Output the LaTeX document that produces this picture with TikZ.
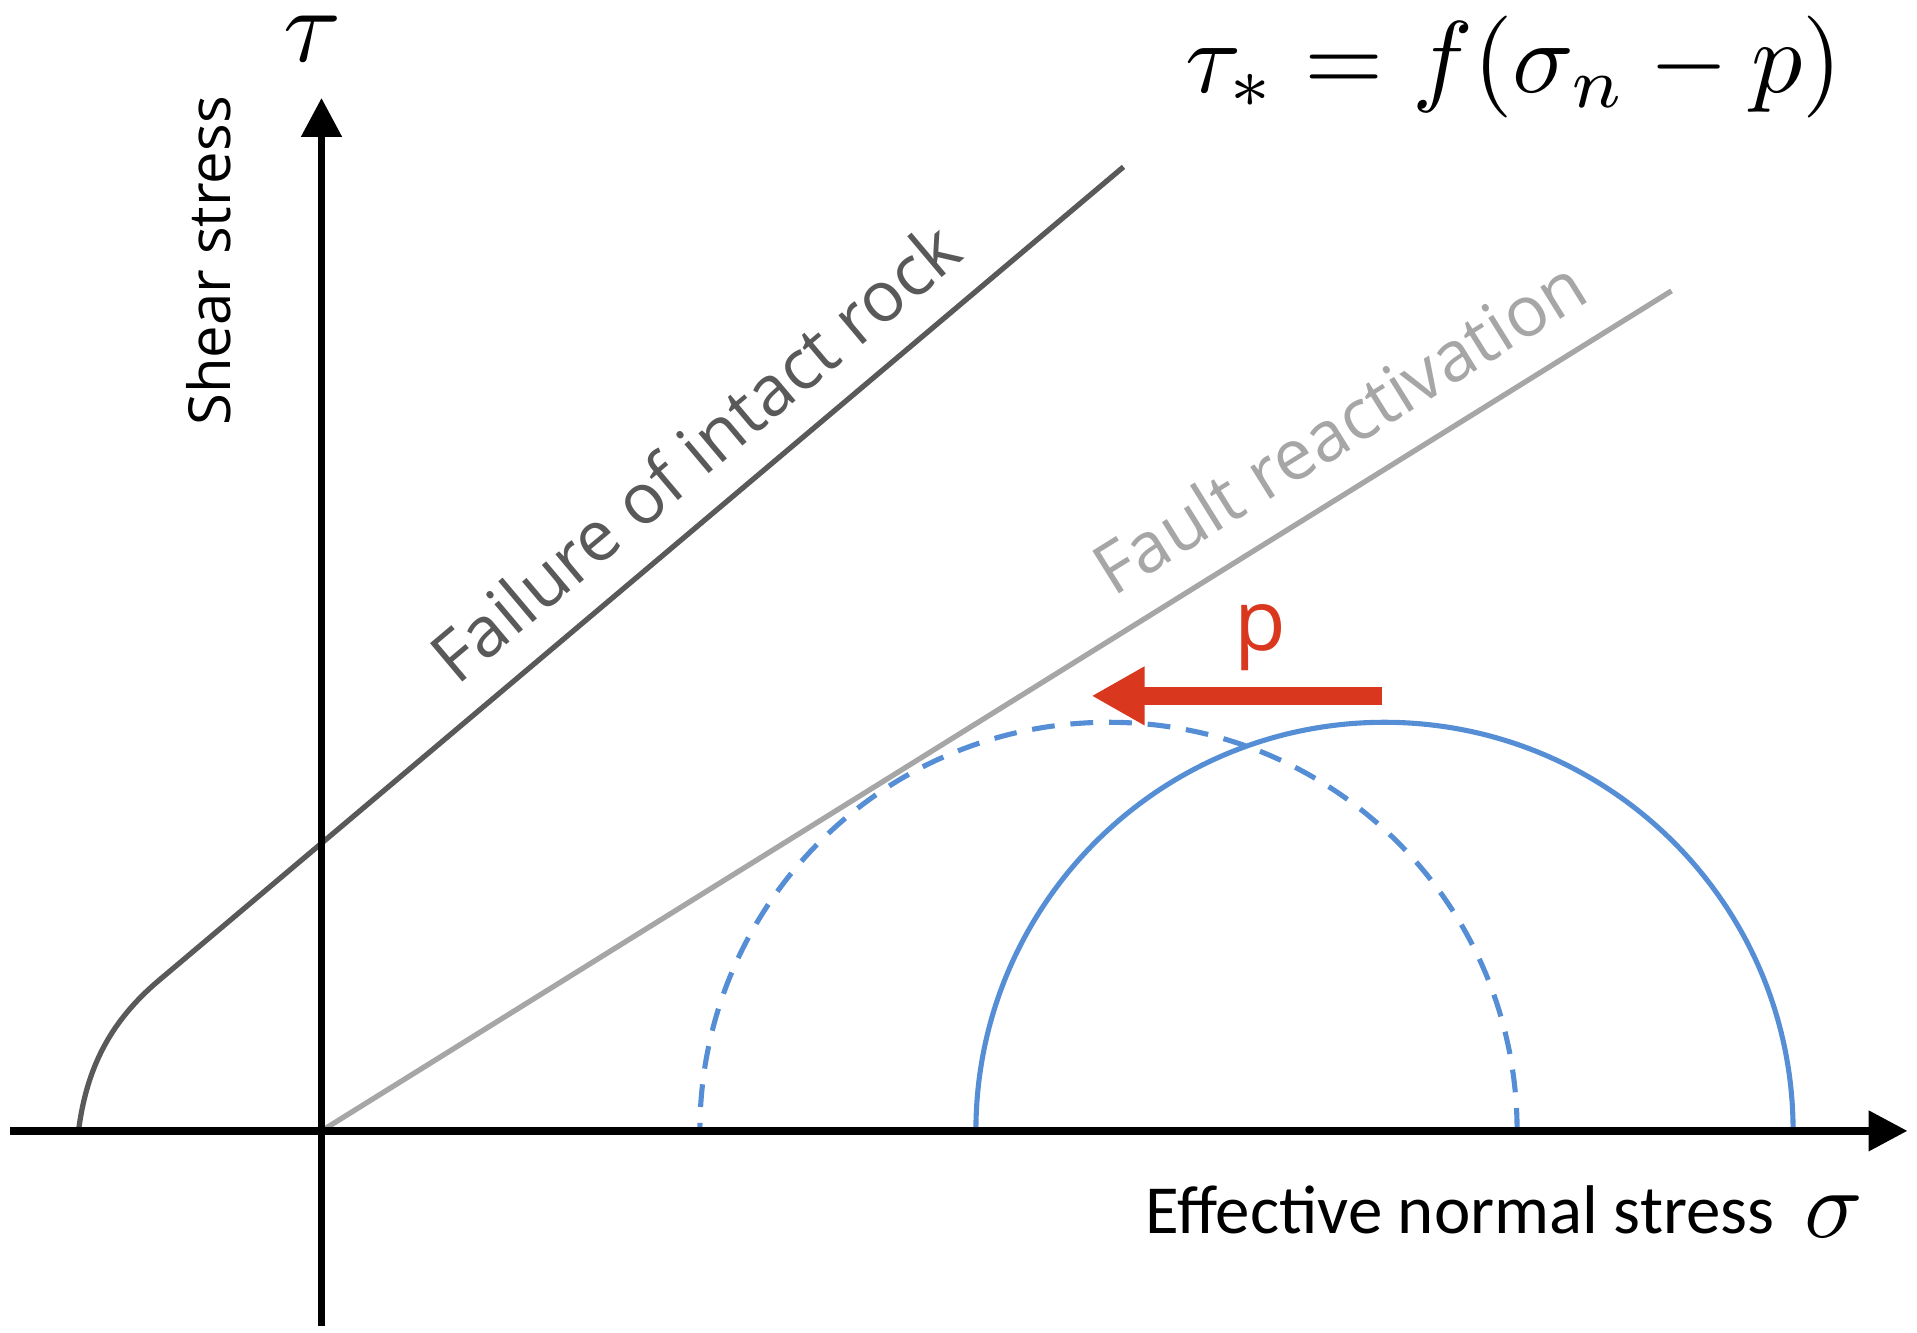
\documentclass[tikz,border=0pt]{standalone}
\usepackage{fontspec}
\usetikzlibrary{arrows.meta}
\newfontfamily\labelfont{Open Sans}
\newfontfamily\axisfont{Carlito}
\definecolor{intactgray}{HTML}{595959}
\definecolor{faultgray}{HTML}{A6A6A6}
\definecolor{mohrblue}{HTML}{558ED5}
\definecolor{porered}{HTML}{D9381E}

\begin{document}
\begin{tikzpicture}[
    axis/.style={line width=2.2pt, -{Triangle[length=0.39cm,width=0.39cm]}},
    envelope/.style={line width=1.5pt},
    mohr/.style={mohrblue, line width=1.45pt},
    slopelabel/.style={font=\labelfont\fontsize{20}{24}\selectfont}
  ]
  \useasboundingbox (-3.215,-2.017) rectangle (15.955,11.309);
  % Mohr circles
  \coordinate (c0) at (10.63,0);
  \coordinate (c1) at (7.87,0);
  \draw[mohr] (c0) ++(4.086,0) arc[start angle=0, end angle=180, radius=4.086];
  \draw[mohr, dash pattern=on 6.5pt off 4.5pt] (c1) ++(4.086,0) arc[start angle=0, end angle=180, radius=4.086];
  % Failure envelopes
  \coordinate (fa) at (-2.43,0);
  \coordinate (fb) at (-1.62,1.51);
  \coordinate (fc) at (8.02,9.64);
  \draw[envelope, intactgray] (fa) .. controls (-2.35,0.62) and (-2.12,1.09) .. (fb) -- (fc);
  \node[slopelabel, intactgray, rotate=40.1] (intact) at (3.73,6.79) {Failure of intact rock};
  \coordinate (o) at (0,0);
  \coordinate (rb) at (13.50,8.40);
  \draw[envelope, faultgray] (o) -- (rb);
  \node[slopelabel, faultgray, rotate=31.9] (fault) at (10.17,7.05) {Fault reactivation};
  % Axes
  \coordinate (xl) at (-3.11,0);
  \coordinate (xr) at (15.86,0);
  \coordinate (yb) at (0,-1.95);
  \coordinate (yt) at (0,10.33);
  \draw[axis] (xl) -- (xr);
  \draw[axis] (yb) -- (yt);
  \node[scale=3, inner sep=0pt] (tau) at (-0.09,10.92) {$\tau$};
  \node[font=\labelfont\fontsize{16.5}{20}\selectfont, rotate=90] (shear) at (-1.13,8.70) {Shear stress};
  \node[font=\axisfont\fontsize{19.6}{22}\selectfont, anchor=base west] (normal) at (8.12,-1.03) {Effective normal stress};
  \node[scale=2.75] (sigma) at (15.12,-0.86) {$\sigma$};
  % Pore pressure shift
  \coordinate (pa) at (10.60,4.35);
  \coordinate (pb) at (7.70,4.35);
  \draw[porered, line width=5.1pt, -{Triangle[length=0.53cm,width=0.55cm]}] (pa) -- (pb);
  \node[porered, font=\labelfont\fontsize{24}{28}\selectfont] (p) at (9.39,4.93) {p};
  % Formula
  \node[scale=2.9, inner sep=0pt] (law) at (11.92,10.64) {$\tau_* = f(\sigma_n - p)$};
\end{tikzpicture}
\end{document}
